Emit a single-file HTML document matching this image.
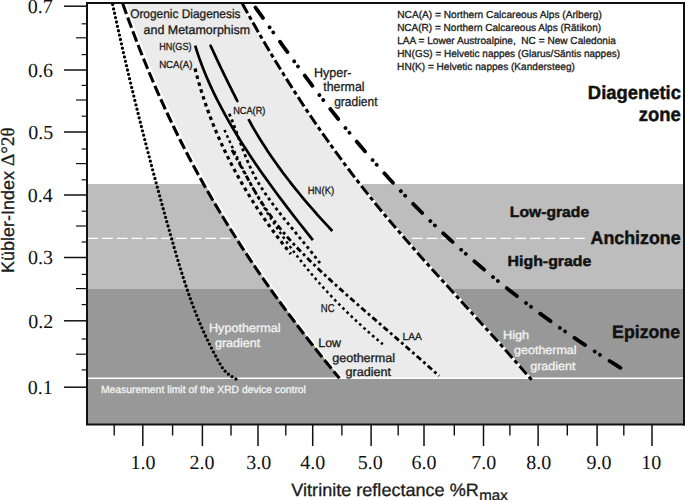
<!DOCTYPE html>
<html><head><meta charset="utf-8"><style>
html,body{margin:0;padding:0;background:#fff;width:685px;height:500px;overflow:hidden;}
svg{display:block;}
</style></head><body>
<svg width="685" height="500" viewBox="0 0 685 500">
<rect width="685" height="500" fill="#fff"/>
<rect x="87" y="184" width="597" height="105" fill="#bdbdbd"/>
<rect x="87" y="289" width="597" height="135.5" fill="#989898"/>
<line x1="87.3" y1="238.4" x2="587" y2="238.4" stroke="#fff" stroke-width="1.3" stroke-dasharray="10.8 3.95"/>
<path d="M124.12,3.00 L125.80,7.75 L127.50,12.50 L129.22,17.25 L130.96,22.00 L132.72,26.75 L134.50,31.50 L136.31,36.25 L138.13,41.01 L139.98,45.76 L141.85,50.51 L143.74,55.26 L145.65,60.01 L147.59,64.76 L149.55,69.51 L151.54,74.26 L153.55,79.01 L155.58,83.76 L157.64,88.51 L159.73,93.26 L161.84,98.01 L163.98,102.76 L166.15,107.51 L168.34,112.26 L170.57,117.02 L172.82,121.77 L175.10,126.52 L177.40,131.27 L179.74,136.02 L182.11,140.77 L184.51,145.52 L186.94,150.27 L189.40,155.02 L191.89,159.77 L194.41,164.52 L196.97,169.27 L199.56,174.02 L202.18,178.77 L204.83,183.52 L207.52,188.27 L210.24,193.03 L212.99,197.78 L215.77,202.53 L218.59,207.28 L221.43,212.03 L224.32,216.78 L227.23,221.53 L230.17,226.28 L233.15,231.03 L236.16,235.78 L239.20,240.53 L242.27,245.28 L245.38,250.03 L248.52,254.78 L251.68,259.53 L254.88,264.28 L258.12,269.04 L261.38,273.79 L264.67,278.54 L268.00,283.29 L271.36,288.04 L274.75,292.79 L278.17,297.54 L281.62,302.29 L285.10,307.04 L288.62,311.79 L292.16,316.54 L295.74,321.29 L299.34,326.04 L302.98,330.79 L306.65,335.54 L310.35,340.29 L314.08,345.05 L317.84,349.80 L321.63,354.55 L325.46,359.30 L329.31,364.05 L333.19,368.80 L337.11,373.55 L341.05,378.30 L530.18,378.30 L526.09,373.55 L521.98,368.80 L517.83,364.05 L513.66,359.30 L509.46,354.55 L505.23,349.80 L500.98,345.05 L496.72,340.29 L492.44,335.54 L488.14,330.79 L483.83,326.04 L479.51,321.29 L475.18,316.54 L470.84,311.79 L466.50,307.04 L462.16,302.29 L457.82,297.54 L453.48,292.79 L449.15,288.04 L444.83,283.29 L440.51,278.54 L436.21,273.79 L431.92,269.04 L427.64,264.28 L423.39,259.53 L419.15,254.78 L414.94,250.03 L410.75,245.28 L406.60,240.53 L402.47,235.78 L398.37,231.03 L394.30,226.28 L390.28,221.53 L386.29,216.78 L382.34,212.03 L378.43,207.28 L374.56,202.53 L370.73,197.78 L366.94,193.03 L363.19,188.27 L359.48,183.52 L355.81,178.77 L352.17,174.02 L348.57,169.27 L345.01,164.52 L341.48,159.77 L337.99,155.02 L334.53,150.27 L331.11,145.52 L327.72,140.77 L324.36,136.02 L321.04,131.27 L317.75,126.52 L314.49,121.77 L311.27,117.02 L308.07,112.26 L304.90,107.51 L301.77,102.76 L298.66,98.01 L295.58,93.26 L292.54,88.51 L289.51,83.76 L286.52,79.01 L283.55,74.26 L280.61,69.51 L277.70,64.76 L274.81,60.01 L271.95,55.26 L269.11,50.51 L266.29,45.76 L263.50,41.01 L260.73,36.25 L257.99,31.50 L255.26,26.75 L252.56,22.00 L249.88,17.25 L247.22,12.50 L244.58,7.75 L241.96,3.00 Z" fill="#ebebeb"/>
<path d="M125.12,3.00 L126.80,7.75 L128.50,12.50 L130.22,17.25 L131.96,22.00 L133.72,26.75 L135.50,31.50 L137.31,36.25 L139.13,41.01 L140.98,45.76 L142.85,50.51 L144.74,55.26 L146.65,60.01 L148.59,64.76 L150.55,69.51 L152.54,74.26 L154.55,79.01 L156.58,83.76 L158.64,88.51 L160.73,93.26 L162.84,98.01 L164.98,102.76 L167.15,107.51 L169.34,112.26 L171.57,117.02 L173.82,121.77 L176.10,126.52 L178.40,131.27 L180.74,136.02 L183.11,140.77 L185.51,145.52 L187.94,150.27 L190.40,155.02 L192.89,159.77 L195.41,164.52 L197.97,169.27 L200.56,174.02 L203.18,178.77 L205.83,183.52 L208.52,188.27 L211.24,193.03 L213.99,197.78 L216.77,202.53 L219.59,207.28 L222.43,212.03 L225.32,216.78 L228.23,221.53 L231.17,226.28 L234.15,231.03 L237.16,235.78 L240.20,240.53 L243.27,245.28 L246.38,250.03 L249.52,254.78 L252.68,259.53 L255.88,264.28 L259.12,269.04 L262.38,273.79 L265.67,278.54 L269.00,283.29 L272.36,288.04 L275.75,292.79 L279.17,297.54 L282.62,302.29 L286.10,307.04 L289.62,311.79 L293.16,316.54 L296.74,321.29 L300.34,326.04 L303.98,330.79 L307.65,335.54 L311.35,340.29 L315.08,345.05 L318.84,349.80 L322.63,354.55 L326.46,359.30 L330.31,364.05 L334.19,368.80 L338.11,373.55 L342.05,378.30" fill="none" stroke="#fff" stroke-width="2.0"/>
<path d="M241.96,3.00 L244.59,7.77 L247.24,12.54 L249.92,17.32 L252.61,22.09 L255.33,26.86 L258.06,31.63 L260.82,36.41 L263.60,41.18 L266.41,45.95 L269.24,50.72 L272.09,55.49 L274.97,60.27 L277.87,65.04 L280.80,69.81 L283.76,74.58 L286.74,79.35 L289.75,84.13 L292.78,88.90 L295.85,93.67 L298.94,98.44 L302.07,103.22 L305.22,107.99 L308.40,112.76 L311.61,117.53 L314.86,122.30 L318.14,127.08 L321.45,131.85 L324.79,136.62 L328.16,141.39 L331.57,146.16 L335.02,150.94 L338.49,155.71 L342.01,160.48 L345.56,165.25 L349.14,170.03 L352.76,174.80 L356.42,179.57 L360.12,184.34 L363.85,189.11 L367.63,193.89 L371.44,198.66 L375.29,203.43 L379.19,208.20 L383.12,212.97 L387.10,217.75 L391.11,222.52 L395.17,227.29 L399.26,232.06 L403.38,236.84 L407.54,241.61 L411.72,246.38 L415.93,251.15 L420.17,255.92 L424.43,260.70 L428.71,265.47 L433.00,270.24 L437.32,275.01 L441.64,279.78 L445.98,284.56 L450.33,289.33 L454.68,294.10 L459.04,298.87 L463.40,303.65 L467.76,308.42 L472.12,313.19 L476.47,317.96 L480.82,322.73 L485.16,327.51 L489.48,332.28 L493.80,337.05 L498.09,341.82 L502.37,346.59 L506.63,351.37 L510.87,356.14 L515.08,360.91 L519.26,365.68 L523.42,370.46 L527.54,375.23 L531.63,380.00" fill="none" stroke="#fff" stroke-width="3"/>
<line x1="87" y1="378.3" x2="684" y2="378.3" stroke="#fff" stroke-width="1.4"/>
<path d="M235.91,379.00 L232.55,377.12 L229.73,375.24 L227.37,373.35 L225.39,371.47 L223.74,369.59 L222.34,367.71 L221.12,365.83 L220.01,363.94 L218.94,362.06 L217.88,360.18 L216.84,358.30 L215.82,356.42 L214.81,354.54 L213.81,352.65 L212.83,350.77 L211.86,348.89 L210.91,347.01 L209.97,345.13 L209.04,343.24 L208.12,341.36 L207.22,339.48 L206.33,337.60 L205.45,335.72 L204.59,333.83 L203.73,331.95 L202.89,330.07 L202.06,328.19 L201.24,326.31 L200.43,324.42 L199.63,322.54 L198.85,320.66 L198.07,318.78 L197.30,316.90 L196.55,315.02 L195.80,313.13 L195.06,311.25 L194.33,309.37 L193.61,307.49 L192.90,305.61 L192.20,303.72 L191.50,301.84 L190.82,299.96 L190.14,298.08 L189.47,296.20 L188.81,294.31 L188.15,292.43 L187.51,290.55 L186.87,288.67 L186.23,286.79 L185.60,284.90 L184.98,283.02 L184.37,281.14 L183.76,279.26 L183.15,277.38 L182.55,275.49 L181.96,273.61 L181.37,271.73 L180.79,269.85 L180.21,267.97 L179.63,266.09 L179.06,264.20 L178.49,262.32 L177.93,260.44 L177.37,258.56 L176.81,256.68 L176.26,254.79 L175.71,252.91 L175.16,251.03 L174.62,249.15 L174.07,247.27 L173.53,245.38 L172.99,243.50 L172.45,241.62 L171.91,239.74 L171.38,237.86 L170.84,235.97 L170.31,234.09 L169.77,232.21 L169.24,230.33 L168.71,228.45 L168.18,226.57 L167.65,224.68 L167.12,222.80 L166.59,220.92 L166.07,219.04 L165.54,217.16 L165.02,215.27 L164.49,213.39 L163.97,211.51 L163.45,209.63 L162.93,207.75 L162.41,205.86 L161.89,203.98 L161.37,202.10 L160.85,200.22 L160.34,198.34 L159.82,196.45 L159.31,194.57 L158.79,192.69 L158.28,190.81 L157.77,188.93 L157.26,187.05 L156.75,185.16 L156.24,183.28 L155.74,181.40 L155.23,179.52 L154.72,177.64 L154.22,175.75 L153.72,173.87 L153.21,171.99 L152.71,170.11 L152.21,168.23 L151.71,166.34 L151.21,164.46 L150.72,162.58 L150.22,160.70 L149.72,158.82 L149.23,156.93 L148.74,155.05 L148.24,153.17 L147.75,151.29 L147.26,149.41 L146.77,147.53 L146.28,145.64 L145.80,143.76 L145.31,141.88 L144.83,140.00 L144.34,138.12 L143.86,136.23 L143.38,134.35 L142.89,132.47 L142.41,130.59 L141.93,128.71 L141.46,126.82 L140.98,124.94 L140.50,123.06 L140.03,121.18 L139.55,119.30 L139.08,117.41 L138.61,115.53 L138.14,113.65 L137.67,111.77 L137.20,109.89 L136.73,108.01 L136.27,106.12 L135.80,104.24 L135.34,102.36 L134.87,100.48 L134.41,98.60 L133.95,96.71 L133.49,94.83 L133.03,92.95 L132.57,91.07 L132.11,89.19 L131.66,87.30 L131.20,85.42 L130.75,83.54 L130.29,81.66 L129.84,79.78 L129.39,77.89 L128.94,76.01 L128.49,74.13 L128.05,72.25 L127.60,70.37 L127.15,68.48 L126.71,66.60 L126.27,64.72 L125.82,62.84 L125.38,60.96 L124.94,59.08 L124.50,57.19 L124.07,55.31 L123.63,53.43 L123.19,51.55 L122.76,49.67 L122.33,47.78 L121.89,45.90 L121.46,44.02 L121.03,42.14 L120.60,40.26 L120.18,38.37 L119.75,36.49 L119.32,34.61 L118.90,32.73 L118.48,30.85 L118.05,28.96 L117.63,27.08 L117.21,25.20 L116.79,23.32 L116.38,21.44 L115.96,19.56 L115.54,17.67 L115.13,15.79 L114.72,13.91 L114.30,12.03 L113.89,10.15 L113.48,8.26 L113.07,6.38 L112.67,4.50" fill="none" stroke="#000" stroke-width="3.3" stroke-linecap="round" stroke-dasharray="0 4.4769"/>
<path d="M339.45,378.30 L335.51,373.55 L331.59,368.80 L327.71,364.05 L323.86,359.30 L320.03,354.55 L316.24,349.80 L312.48,345.05 L308.75,340.29 L305.05,335.54 L301.38,330.79 L297.74,326.04 L294.14,321.29 L290.56,316.54 L287.02,311.79 L283.50,307.04 L280.02,302.29 L276.57,297.54 L273.15,292.79 L269.76,288.04 L266.40,283.29 L263.07,278.54 L259.78,273.79 L256.52,269.04 L253.28,264.28 L250.08,259.53 L246.92,254.78 L243.78,250.03 L240.67,245.28 L237.60,240.53 L234.56,235.78 L231.55,231.03 L228.57,226.28 L225.63,221.53 L222.72,216.78 L219.83,212.03 L216.99,207.28 L214.17,202.53 L211.39,197.78 L208.64,193.03 L205.92,188.27 L203.23,183.52 L200.58,178.77 L197.96,174.02 L195.37,169.27 L192.81,164.52 L190.29,159.77 L187.80,155.02 L185.34,150.27 L182.91,145.52 L180.51,140.77 L178.14,136.02 L175.80,131.27 L173.50,126.52 L171.22,121.77 L168.97,117.02 L166.74,112.26 L164.55,107.51 L162.38,102.76 L160.24,98.01 L158.13,93.26 L156.04,88.51 L153.98,83.76 L151.95,79.01 L149.94,74.26 L147.95,69.51 L145.99,64.76 L144.05,60.01 L142.14,55.26 L140.25,50.51 L138.38,45.76 L136.53,41.01 L134.71,36.25 L132.90,31.50 L131.12,26.75 L129.36,22.00 L127.62,17.25 L125.90,12.50 L124.20,7.75 L122.52,3.00" fill="none" stroke="#000" stroke-width="3.1" stroke-dasharray="11 3.7" stroke-dashoffset="2"/>
<path d="M531.63,380.00 L527.54,375.23 L523.42,370.46 L519.26,365.68 L515.08,360.91 L510.87,356.14 L506.63,351.37 L502.37,346.59 L498.09,341.82 L493.80,337.05 L489.48,332.28 L485.16,327.51 L480.82,322.73 L476.47,317.96 L472.12,313.19 L467.76,308.42 L463.40,303.65 L459.04,298.87 L454.68,294.10 L450.33,289.33 L445.98,284.56 L441.64,279.78 L437.32,275.01 L433.00,270.24 L428.71,265.47 L424.43,260.70 L420.17,255.92 L415.93,251.15 L411.72,246.38 L407.54,241.61 L403.38,236.84 L399.26,232.06 L395.17,227.29 L391.11,222.52 L387.10,217.75 L383.12,212.97 L379.19,208.20 L375.29,203.43 L371.44,198.66 L367.63,193.89 L363.85,189.11 L360.12,184.34 L356.42,179.57 L352.76,174.80 L349.14,170.03 L345.56,165.25 L342.01,160.48 L338.49,155.71 L335.02,150.94 L331.57,146.16 L328.16,141.39 L324.79,136.62 L321.45,131.85 L318.14,127.08 L314.86,122.30 L311.61,117.53 L308.40,112.76 L305.22,107.99 L302.07,103.22 L298.94,98.44 L295.85,93.67 L292.78,88.90 L289.75,84.13 L286.74,79.35 L283.76,74.58 L280.80,69.81 L277.87,65.04 L274.97,60.27 L272.09,55.49 L269.24,50.72 L266.41,45.95 L263.60,41.18 L260.82,36.41 L258.06,31.63 L255.33,26.86 L252.61,22.09 L249.92,17.32 L247.24,12.54 L244.59,7.77 L241.96,3.00" fill="none" stroke="#000" stroke-width="3" stroke-dasharray="4.2 3.3 11 3.3"/>
<path d="M620.43,367.80 L613.10,363.22 L605.88,358.64 L598.77,354.05 L591.75,349.47 L584.83,344.89 L578.01,340.31 L571.28,335.72 L564.65,331.14 L558.11,326.56 L551.67,321.98 L545.31,317.39 L539.05,312.81 L532.87,308.23 L526.78,303.65 L520.78,299.07 L514.86,294.48 L509.02,289.90 L503.26,285.32 L497.59,280.74 L491.99,276.15 L486.47,271.57 L481.03,266.99 L475.66,262.41 L470.36,257.83 L465.14,253.24 L459.99,248.66 L454.91,244.08 L449.90,239.50 L444.95,234.91 L440.07,230.33 L435.26,225.75 L430.51,221.17 L425.82,216.58 L421.19,212.00 L416.62,207.42 L412.10,202.84 L407.65,198.26 L403.25,193.67 L398.90,189.09 L394.61,184.51 L390.37,179.93 L386.17,175.34 L382.03,170.76 L377.94,166.18 L373.89,161.60 L369.88,157.02 L365.92,152.43 L362.00,147.85 L358.12,143.27 L354.28,138.69 L350.48,134.10 L346.72,129.52 L342.99,124.94 L339.30,120.36 L335.64,115.77 L332.01,111.19 L328.41,106.61 L324.84,102.03 L321.30,97.45 L317.78,92.86 L314.29,88.28 L310.83,83.70 L307.38,79.12 L303.96,74.53 L300.56,69.95 L297.17,65.37 L293.81,60.79 L290.45,56.21 L287.12,51.62 L283.80,47.04 L280.48,42.46 L277.18,37.88 L273.89,33.29 L270.61,28.71 L267.33,24.13 L264.06,19.55 L260.80,14.96 L257.53,10.38 L254.27,5.80" fill="none" stroke="#000" stroke-width="3.8" stroke-linecap="round" stroke-dasharray="12.8 11.4 0.01 6.3 0.01 11.5"/>
<path d="M195.19,45.70 L196.42,49.67 L197.71,53.63 L199.07,57.60 L200.49,61.57 L201.97,65.54 L203.51,69.50 L205.12,73.47 L206.78,77.44 L208.50,81.41 L210.28,85.37 L212.11,89.34 L214.00,93.31 L215.95,97.28 L217.94,101.24 L219.99,105.21 L222.09,109.18 L224.24,113.14 L226.44,117.11 L228.68,121.08 L230.97,125.05 L233.31,129.01 L235.69,132.98 L238.12,136.95 L240.58,140.92 L243.09,144.88 L245.64,148.85 L248.23,152.82 L250.85,156.79 L253.51,160.75 L256.21,164.72 L258.95,168.69 L261.71,172.66 L264.51,176.62 L267.34,180.59 L270.21,184.56 L273.10,188.52 L276.02,192.49 L278.96,196.46 L281.94,200.43 L284.94,204.39 L287.96,208.36 L291.01,212.33 L294.08,216.30 L297.16,220.26 L300.27,224.23 L303.40,228.20 L306.55,232.17 L309.71,236.13 L312.89,240.10" fill="none" stroke="#000" stroke-width="2.7"/>
<path d="M210.61,45.70 L211.93,48.61 L213.27,51.52 L214.62,54.43 L215.97,57.34 L217.34,60.25 L218.71,63.16 L220.09,66.07 L221.48,68.98 L222.88,71.89 L224.29,74.81 L225.70,77.72 L227.13,80.63 L228.56,83.54 L230.01,86.45 L231.46,89.36 L232.92,92.27 L234.39,95.18 L235.87,98.09 L237.35,101.00" fill="none" stroke="#000" stroke-width="2.7" stroke-linecap="round"/>
<path d="M248.44,119.20 L249.68,121.48 L250.95,123.76 L252.23,126.04 L253.54,128.33 L254.87,130.61 L256.22,132.89 L257.58,135.17 L258.97,137.45 L260.38,139.73 L261.81,142.02 L263.26,144.30 L264.73,146.58 L266.22,148.86 L267.73,151.14 L269.25,153.42 L270.80,155.71 L272.37,157.99 L273.96,160.27 L275.56,162.55 L277.19,164.83 L278.83,167.11 L280.50,169.40 L282.18,171.68 L283.88,173.96 L285.60,176.24 L287.34,178.52 L289.10,180.80 L290.88,183.09 L292.68,185.37 L294.49,187.65 L296.32,189.93 L298.17,192.21 L300.04,194.49 L301.93,196.78 L303.84,199.06 L305.76,201.34 L307.70,203.62 L309.66,205.90 L311.64,208.18 L313.63,210.47 L315.64,212.75 L317.67,215.03 L319.72,217.31 L321.78,219.59 L323.87,221.87 L325.96,224.16 L328.08,226.44 L330.21,228.72 L332.36,231.00" fill="none" stroke="#000" stroke-width="2.7"/>
<path d="M195.01,68.50 L195.98,72.29 L196.99,76.07 L198.03,79.86 L199.11,83.64 L200.23,87.43 L201.38,91.21 L202.58,95.00 L203.81,98.79 L205.07,102.57 L206.38,106.36 L207.73,110.14 L209.12,113.93 L210.54,117.71 L212.01,121.50 L213.51,125.29 L215.06,129.07 L216.65,132.86 L218.28,136.64 L219.95,140.43 L221.66,144.21 L223.41,148.00 L225.21,151.79 L227.05,155.57 L228.93,159.36 L230.86,163.14 L232.83,166.93 L234.85,170.71 L236.90,174.50 L239.01,178.29 L241.16,182.07 L243.35,185.86 L245.59,189.64 L247.87,193.43 L250.20,197.21 L252.58,201.00 L255.00,204.79 L257.48,208.57 L259.99,212.36 L262.56,216.14 L265.17,219.93 L267.84,223.71 L270.55,227.50 L273.31,231.29 L276.12,235.07 L278.98,238.86 L281.89,242.64 L284.84,246.43 L287.85,250.21 L290.91,254.00" fill="none" stroke="#000" stroke-width="3.2" stroke-dasharray="3.6 3.6"/>
<path d="M229.24,113.80 L230.54,116.85 L231.79,119.90 L233.00,122.95 L234.17,126.00 L235.33,129.04 L236.46,132.09 L237.58,135.14 L238.69,138.19 L239.80,141.24 L240.92,144.29 L242.05,147.34 L243.21,150.39 L244.39,153.44 L245.60,156.49 L246.85,159.53 L248.14,162.58 L249.49,165.63 L250.90,168.68 L252.38,171.73 L253.92,174.78 L255.55,177.83 L257.26,180.88 L259.05,183.93 L260.93,186.98 L262.89,190.02 L264.92,193.07 L267.02,196.12 L269.19,199.17 L271.40,202.22 L273.68,205.27 L276.00,208.32 L278.36,211.37 L280.75,214.42 L283.18,217.47 L285.64,220.51 L288.12,223.56 L290.61,226.61 L293.12,229.66 L295.63,232.71 L298.14,235.76 L300.65,238.81 L303.15,241.86 L305.64,244.91 L308.10,247.96 L310.54,251.00 L312.96,254.05 L315.33,257.10 L317.67,260.15 L319.96,263.20" fill="none" stroke="#000" stroke-width="2.8" stroke-dasharray="3 3.2"/>
<path d="M231.94,150.00 L234.50,154.61 L237.03,159.22 L239.54,163.84 L242.05,168.45 L244.57,173.06 L247.11,177.67 L249.69,182.29 L252.31,186.90 L254.99,191.51 L257.75,196.12 L260.59,200.73 L263.52,205.35 L266.57,209.96 L269.74,214.57 L273.05,219.18 L276.51,223.80 L280.12,228.41 L283.91,233.02 L287.88,237.63 L292.02,242.24 L296.31,246.86 L300.73,251.47 L305.28,256.08 L309.94,260.69 L314.68,265.31 L319.50,269.92 L324.40,274.53 L329.37,279.14 L334.39,283.76 L339.47,288.37 L344.61,292.98 L349.78,297.59 L355.00,302.20 L360.25,306.82 L365.52,311.43 L370.82,316.04 L376.13,320.65 L381.45,325.27 L386.78,329.88 L392.10,334.49 L397.42,339.10 L402.73,343.71 L408.02,348.33 L413.28,352.94 L418.51,357.55 L423.71,362.16 L428.86,366.78 L433.97,371.39 L439.03,376.00" fill="none" stroke="#000" stroke-width="2.8" stroke-dasharray="5.7 3.1 2.8 3.1"/>
<path d="M224.50,130.00 L226.46,134.37 L228.45,138.74 L230.46,143.11 L232.49,147.49 L234.55,151.86 L236.65,156.23 L238.77,160.60 L240.93,164.97 L243.13,169.34 L245.36,173.71 L247.64,178.09 L249.95,182.46 L252.31,186.83 L254.72,191.20 L257.17,195.57 L259.68,199.94 L262.23,204.31 L264.84,208.69 L267.51,213.06 L270.23,217.43 L273.01,221.80 L275.85,226.17 L278.76,230.54 L281.73,234.91 L284.77,239.29 L287.87,243.66 L291.05,248.03 L294.30,252.40 L297.63,256.77 L301.03,261.14 L304.51,265.51 L308.07,269.89 L311.71,274.26 L315.44,278.63 L319.25,283.00 L323.16,287.37 L327.15,291.74 L331.23,296.11 L335.41,300.49 L339.69,304.86 L344.06,309.23 L348.53,313.60 L353.10,317.97 L357.78,322.34 L362.56,326.71 L367.45,331.09 L372.45,335.46 L377.56,339.83 L382.79,344.20" fill="none" stroke="#000" stroke-width="2.5" stroke-dasharray="2.6 3.2"/>
<path d="M87,424.5 L87,3 L685,3 M86,424.5 L685,424.5" fill="none" stroke="#111" stroke-width="2"/>
<line x1="684" y1="3" x2="684" y2="425.5" stroke="#111" stroke-width="2"/>
<line x1="64" y1="6.2" x2="87" y2="6.2" stroke="#111" stroke-width="1.5"/>
<line x1="64" y1="70" x2="87" y2="70" stroke="#111" stroke-width="1.5"/>
<line x1="64" y1="132" x2="87" y2="132" stroke="#111" stroke-width="1.5"/>
<line x1="64" y1="195" x2="87" y2="195" stroke="#111" stroke-width="1.5"/>
<line x1="64" y1="257.5" x2="87" y2="257.5" stroke="#111" stroke-width="1.5"/>
<line x1="64" y1="320.8" x2="87" y2="320.8" stroke="#111" stroke-width="1.5"/>
<line x1="64" y1="387.2" x2="87" y2="387.2" stroke="#111" stroke-width="1.5"/>
<line x1="81.6" y1="23.8" x2="87" y2="23.8" stroke="#111" stroke-width="1.2"/>
<line x1="76" y1="37.8" x2="87" y2="37.8" stroke="#111" stroke-width="1.2"/>
<line x1="81.6" y1="54.6" x2="87" y2="54.6" stroke="#111" stroke-width="1.2"/>
<line x1="81.6" y1="85.4" x2="87" y2="85.4" stroke="#111" stroke-width="1.2"/>
<line x1="76" y1="100" x2="87" y2="100" stroke="#111" stroke-width="1.2"/>
<line x1="81.6" y1="116.2" x2="87" y2="116.2" stroke="#111" stroke-width="1.2"/>
<line x1="81.6" y1="149" x2="87" y2="149" stroke="#111" stroke-width="1.2"/>
<line x1="76" y1="163.6" x2="87" y2="163.6" stroke="#111" stroke-width="1.2"/>
<line x1="81.6" y1="179.8" x2="87" y2="179.8" stroke="#111" stroke-width="1.2"/>
<line x1="81.6" y1="211.2" x2="87" y2="211.2" stroke="#111" stroke-width="1.2"/>
<line x1="76" y1="226" x2="87" y2="226" stroke="#111" stroke-width="1.2"/>
<line x1="81.6" y1="242" x2="87" y2="242" stroke="#111" stroke-width="1.2"/>
<line x1="81.6" y1="274.4" x2="87" y2="274.4" stroke="#111" stroke-width="1.2"/>
<line x1="76" y1="288.6" x2="87" y2="288.6" stroke="#111" stroke-width="1.2"/>
<line x1="81.6" y1="304.6" x2="87" y2="304.6" stroke="#111" stroke-width="1.2"/>
<line x1="81.6" y1="339" x2="87" y2="339" stroke="#111" stroke-width="1.2"/>
<line x1="76" y1="354.2" x2="87" y2="354.2" stroke="#111" stroke-width="1.2"/>
<line x1="81.6" y1="369.9" x2="87" y2="369.9" stroke="#111" stroke-width="1.2"/>
<line x1="142.8" y1="424.5" x2="142.8" y2="446" stroke="#111" stroke-width="1.5"/>
<line x1="202.4" y1="424.5" x2="202.4" y2="446" stroke="#111" stroke-width="1.5"/>
<line x1="258" y1="424.5" x2="258" y2="446" stroke="#111" stroke-width="1.5"/>
<line x1="312.7" y1="424.5" x2="312.7" y2="446" stroke="#111" stroke-width="1.5"/>
<line x1="371.1" y1="424.5" x2="371.1" y2="446" stroke="#111" stroke-width="1.5"/>
<line x1="424" y1="424.5" x2="424" y2="446" stroke="#111" stroke-width="1.5"/>
<line x1="483.5" y1="424.5" x2="483.5" y2="446" stroke="#111" stroke-width="1.5"/>
<line x1="538.1" y1="424.5" x2="538.1" y2="446" stroke="#111" stroke-width="1.5"/>
<line x1="597.1" y1="424.5" x2="597.1" y2="446" stroke="#111" stroke-width="1.5"/>
<line x1="652" y1="424.5" x2="652" y2="446" stroke="#111" stroke-width="1.5"/>
<line x1="114.2" y1="424.5" x2="114.2" y2="435.5" stroke="#111" stroke-width="1.4"/>
<line x1="172.6" y1="424.5" x2="172.6" y2="435.5" stroke="#111" stroke-width="1.4"/>
<line x1="231" y1="424.5" x2="231" y2="435.5" stroke="#111" stroke-width="1.4"/>
<line x1="285.8" y1="424.5" x2="285.8" y2="435.5" stroke="#111" stroke-width="1.4"/>
<line x1="341.9" y1="424.5" x2="341.9" y2="435.5" stroke="#111" stroke-width="1.4"/>
<line x1="398.2" y1="424.5" x2="398.2" y2="435.5" stroke="#111" stroke-width="1.4"/>
<line x1="454.3" y1="424.5" x2="454.3" y2="435.5" stroke="#111" stroke-width="1.4"/>
<line x1="509.9" y1="424.5" x2="509.9" y2="435.5" stroke="#111" stroke-width="1.4"/>
<line x1="567.3" y1="424.5" x2="567.3" y2="435.5" stroke="#111" stroke-width="1.4"/>
<line x1="623.8" y1="424.5" x2="623.8" y2="435.5" stroke="#111" stroke-width="1.4"/>
<text x="27.86" y="13.40" style="font-family:'Liberation Serif',serif;font-size:20px;font-weight:normal;white-space:pre" text-rendering="geometricPrecision" fill="#111">0.7</text>
<text x="27.88" y="77.00" style="font-family:'Liberation Serif',serif;font-size:20px;font-weight:normal;white-space:pre" text-rendering="geometricPrecision" fill="#111">0.6</text>
<text x="28.31" y="139.00" style="font-family:'Liberation Serif',serif;font-size:20px;font-weight:normal;white-space:pre" text-rendering="geometricPrecision" fill="#111">0.5</text>
<text x="27.75" y="202.00" style="font-family:'Liberation Serif',serif;font-size:20px;font-weight:normal;white-space:pre" text-rendering="geometricPrecision" fill="#111">0.4</text>
<text x="28.09" y="264.30" style="font-family:'Liberation Serif',serif;font-size:20px;font-weight:normal;white-space:pre" text-rendering="geometricPrecision" fill="#111">0.3</text>
<text x="28.23" y="327.60" style="font-family:'Liberation Serif',serif;font-size:20px;font-weight:normal;white-space:pre" text-rendering="geometricPrecision" fill="#111">0.2</text>
<text x="27.77" y="393.60" style="font-family:'Liberation Serif',serif;font-size:20px;font-weight:normal;white-space:pre" text-rendering="geometricPrecision" fill="#111">0.1</text>
<text x="130.43" y="469.00" style="font-family:'Liberation Serif',serif;font-size:20px;font-weight:normal;white-space:pre" text-rendering="geometricPrecision" fill="#111">1.0</text>
<text x="189.62" y="469.00" style="font-family:'Liberation Serif',serif;font-size:20px;font-weight:normal;white-space:pre" text-rendering="geometricPrecision" fill="#111">2.0</text>
<text x="246.13" y="469.00" style="font-family:'Liberation Serif',serif;font-size:20px;font-weight:normal;white-space:pre" text-rendering="geometricPrecision" fill="#111">3.0</text>
<text x="300.17" y="469.00" style="font-family:'Liberation Serif',serif;font-size:20px;font-weight:normal;white-space:pre" text-rendering="geometricPrecision" fill="#111">4.0</text>
<text x="357.79" y="469.00" style="font-family:'Liberation Serif',serif;font-size:20px;font-weight:normal;white-space:pre" text-rendering="geometricPrecision" fill="#111">5.0</text>
<text x="411.57" y="469.00" style="font-family:'Liberation Serif',serif;font-size:20px;font-weight:normal;white-space:pre" text-rendering="geometricPrecision" fill="#111">6.0</text>
<text x="471.24" y="469.00" style="font-family:'Liberation Serif',serif;font-size:20px;font-weight:normal;white-space:pre" text-rendering="geometricPrecision" fill="#111">7.0</text>
<text x="526.21" y="469.00" style="font-family:'Liberation Serif',serif;font-size:20px;font-weight:normal;white-space:pre" text-rendering="geometricPrecision" fill="#111">8.0</text>
<text x="586.40" y="469.00" style="font-family:'Liberation Serif',serif;font-size:20px;font-weight:normal;white-space:pre" text-rendering="geometricPrecision" fill="#111">9.0</text>
<text x="641.29" y="469.00" style="font-family:'Liberation Serif',serif;font-size:20px;font-weight:normal;white-space:pre" text-rendering="geometricPrecision" fill="#111">10</text>
<text x="291.37" y="496.30" style="font-family:'Liberation Sans',sans-serif;font-size:17.9px;font-weight:normal;white-space:pre" text-rendering="geometricPrecision" fill="#1a1a1a" stroke="#1a1a1a" stroke-width="0.3" textLength="187.42" lengthAdjust="spacingAndGlyphs">Vitrinite reflectance %R</text>
<text x="479.31" y="499.60" style="font-family:'Liberation Sans',sans-serif;font-size:14.4px;font-weight:normal;white-space:pre" text-rendering="geometricPrecision" fill="#1a1a1a" stroke="#1a1a1a" stroke-width="0.3" textLength="28.45" lengthAdjust="spacingAndGlyphs">max</text>
<text x="397.22" y="18.10" style="font-family:'Liberation Sans',sans-serif;font-size:10.2px;font-weight:normal;white-space:pre" text-rendering="geometricPrecision" fill="#1a1a1a" stroke="#1a1a1a" stroke-width="0.3" textLength="204.56" lengthAdjust="spacingAndGlyphs">NCA(A) = Northern Calcareous Alps (Arlberg)</text>
<text x="397.13" y="31.30" style="font-family:'Liberation Sans',sans-serif;font-size:10.2px;font-weight:normal;white-space:pre" text-rendering="geometricPrecision" fill="#1a1a1a" stroke="#1a1a1a" stroke-width="0.3" textLength="203.96" lengthAdjust="spacingAndGlyphs">NCA(R) = Northern Calcareous Alps (Rätikon)</text>
<text x="397.22" y="43.90" style="font-family:'Liberation Sans',sans-serif;font-size:10.2px;font-weight:normal;white-space:pre" text-rendering="geometricPrecision" fill="#1a1a1a" stroke="#1a1a1a" stroke-width="0.3" textLength="218.54" lengthAdjust="spacingAndGlyphs">LAA = Lower Austroalpine,  NC = New Caledonia</text>
<text x="397.14" y="57.20" style="font-family:'Liberation Sans',sans-serif;font-size:10.2px;font-weight:normal;white-space:pre" text-rendering="geometricPrecision" fill="#1a1a1a" stroke="#1a1a1a" stroke-width="0.3" textLength="222.91" lengthAdjust="spacingAndGlyphs">HN(GS) = Helvetic nappes (Glarus/Säntis nappes)</text>
<text x="397.12" y="70.20" style="font-family:'Liberation Sans',sans-serif;font-size:10.2px;font-weight:normal;white-space:pre" text-rendering="geometricPrecision" fill="#1a1a1a" stroke="#1a1a1a" stroke-width="0.3" textLength="177.73" lengthAdjust="spacingAndGlyphs">HN(K) = Helvetic nappes (Kandersteeg)</text>
<text x="587.86" y="99.10" style="font-family:'Liberation Sans',sans-serif;font-size:19.0px;font-weight:bold;white-space:pre" text-rendering="geometricPrecision" fill="#111" stroke="#111" stroke-width="0.45" textLength="93.10" lengthAdjust="spacingAndGlyphs">Diagenetic</text>
<text x="638.76" y="121.30" style="font-family:'Liberation Sans',sans-serif;font-size:19.5px;font-weight:bold;white-space:pre" text-rendering="geometricPrecision" fill="#111" stroke="#111" stroke-width="0.45" textLength="42.14" lengthAdjust="spacingAndGlyphs">zone</text>
<text x="509.88" y="216.60" style="font-family:'Liberation Sans',sans-serif;font-size:15.0px;font-weight:bold;white-space:pre" text-rendering="geometricPrecision" fill="#111" stroke="#111" stroke-width="0.45" textLength="79.23" lengthAdjust="spacingAndGlyphs">Low-grade</text>
<text x="590.60" y="244.10" style="font-family:'Liberation Sans',sans-serif;font-size:18.3px;font-weight:bold;white-space:pre" text-rendering="geometricPrecision" fill="#111" stroke="#111" stroke-width="0.45" textLength="89.99" lengthAdjust="spacingAndGlyphs">Anchizone</text>
<text x="507.62" y="265.80" style="font-family:'Liberation Sans',sans-serif;font-size:14.5px;font-weight:bold;white-space:pre" text-rendering="geometricPrecision" fill="#111" stroke="#111" stroke-width="0.45" textLength="83.78" lengthAdjust="spacingAndGlyphs">High-grade</text>
<text x="612.12" y="337.50" style="font-family:'Liberation Sans',sans-serif;font-size:18.0px;font-weight:bold;white-space:pre" text-rendering="geometricPrecision" fill="#111" stroke="#111" stroke-width="0.45" textLength="67.94" lengthAdjust="spacingAndGlyphs">Epizone</text>
<text x="130.18" y="18.30" style="font-family:'Liberation Sans',sans-serif;font-size:12.5px;font-weight:normal;white-space:pre" text-rendering="geometricPrecision" fill="#1a1a1a" stroke="#1a1a1a" stroke-width="0.3" textLength="110.32" lengthAdjust="spacingAndGlyphs">Orogenic Diagenesis</text>
<text x="143.56" y="33.50" style="font-family:'Liberation Sans',sans-serif;font-size:12.5px;font-weight:normal;white-space:pre" text-rendering="geometricPrecision" fill="#1a1a1a" stroke="#1a1a1a" stroke-width="0.3" textLength="106.55" lengthAdjust="spacingAndGlyphs">and Metamorphism</text>
<text x="159.18" y="50.20" style="font-family:'Liberation Sans',sans-serif;font-size:10.3px;font-weight:normal;white-space:pre" text-rendering="geometricPrecision" fill="#1a1a1a" stroke="#1a1a1a" stroke-width="0.3" textLength="32.38" lengthAdjust="spacingAndGlyphs">HN(GS)</text>
<text x="159.14" y="68.20" style="font-family:'Liberation Sans',sans-serif;font-size:10.2px;font-weight:normal;white-space:pre" text-rendering="geometricPrecision" fill="#1a1a1a" stroke="#1a1a1a" stroke-width="0.3" textLength="33.36" lengthAdjust="spacingAndGlyphs">NCA(A)</text>
<text x="233.17" y="114.40" style="font-family:'Liberation Sans',sans-serif;font-size:10.2px;font-weight:normal;white-space:pre" text-rendering="geometricPrecision" fill="#1a1a1a" stroke="#1a1a1a" stroke-width="0.3" textLength="32.27" lengthAdjust="spacingAndGlyphs">NCA(R)</text>
<text x="307.74" y="194.30" style="font-family:'Liberation Sans',sans-serif;font-size:10.6px;font-weight:normal;white-space:pre" text-rendering="geometricPrecision" fill="#1a1a1a" stroke="#1a1a1a" stroke-width="0.3" textLength="26.42" lengthAdjust="spacingAndGlyphs">HN(K)</text>
<text x="320.73" y="311.90" style="font-family:'Liberation Sans',sans-serif;font-size:11.4px;font-weight:normal;white-space:pre" text-rendering="geometricPrecision" fill="#1a1a1a" stroke="#1a1a1a" stroke-width="0.3" textLength="13.81" lengthAdjust="spacingAndGlyphs">NC</text>
<text x="402.62" y="339.90" style="font-family:'Liberation Sans',sans-serif;font-size:10.3px;font-weight:normal;white-space:pre" text-rendering="geometricPrecision" fill="#1a1a1a" stroke="#1a1a1a" stroke-width="0.3" textLength="19.19" lengthAdjust="spacingAndGlyphs">LAA</text>
<text x="313.89" y="77.40" style="font-family:'Liberation Sans',sans-serif;font-size:13.0px;font-weight:normal;white-space:pre" text-rendering="geometricPrecision" fill="#1a1a1a" stroke="#1a1a1a" stroke-width="0.3" textLength="37.64" lengthAdjust="spacingAndGlyphs">Hyper-</text>
<text x="323.30" y="91.40" style="font-family:'Liberation Sans',sans-serif;font-size:13.0px;font-weight:normal;white-space:pre" text-rendering="geometricPrecision" fill="#1a1a1a" stroke="#1a1a1a" stroke-width="0.3" textLength="41.27" lengthAdjust="spacingAndGlyphs">thermal</text>
<text x="334.14" y="106.20" style="font-family:'Liberation Sans',sans-serif;font-size:13.0px;font-weight:normal;white-space:pre" text-rendering="geometricPrecision" fill="#1a1a1a" stroke="#1a1a1a" stroke-width="0.3" textLength="43.42" lengthAdjust="spacingAndGlyphs">gradient</text>
<text x="318.31" y="346.50" style="font-family:'Liberation Sans',sans-serif;font-size:12.3px;font-weight:normal;white-space:pre" text-rendering="geometricPrecision" fill="#1a1a1a" stroke="#1a1a1a" stroke-width="0.3" textLength="22.78" lengthAdjust="spacingAndGlyphs">Low</text>
<text x="332.15" y="361.90" style="font-family:'Liberation Sans',sans-serif;font-size:12.3px;font-weight:normal;white-space:pre" text-rendering="geometricPrecision" fill="#1a1a1a" stroke="#1a1a1a" stroke-width="0.3" textLength="62.95" lengthAdjust="spacingAndGlyphs">geothermal</text>
<text x="345.45" y="376.20" style="font-family:'Liberation Sans',sans-serif;font-size:12.3px;font-weight:normal;white-space:pre" text-rendering="geometricPrecision" fill="#1a1a1a" stroke="#1a1a1a" stroke-width="0.3" textLength="45.63" lengthAdjust="spacingAndGlyphs">gradient</text>
<text x="208.99" y="332.30" style="font-family:'Liberation Sans',sans-serif;font-size:12.2px;font-weight:normal;white-space:pre" text-rendering="geometricPrecision" fill="#f4f4f4" stroke="#f4f4f4" stroke-width="0.3" textLength="71.52" lengthAdjust="spacingAndGlyphs">Hypothermal</text>
<text x="214.91" y="347.20" style="font-family:'Liberation Sans',sans-serif;font-size:12.2px;font-weight:normal;white-space:pre" text-rendering="geometricPrecision" fill="#f4f4f4" stroke="#f4f4f4" stroke-width="0.3" textLength="45.42" lengthAdjust="spacingAndGlyphs">gradient</text>
<text x="502.97" y="339.40" style="font-family:'Liberation Sans',sans-serif;font-size:11.9px;font-weight:normal;white-space:pre" text-rendering="geometricPrecision" fill="#f4f4f4" stroke="#f4f4f4" stroke-width="0.3" textLength="26.18" lengthAdjust="spacingAndGlyphs">High</text>
<text x="514.12" y="354.40" style="font-family:'Liberation Sans',sans-serif;font-size:11.9px;font-weight:normal;white-space:pre" text-rendering="geometricPrecision" fill="#f4f4f4" stroke="#f4f4f4" stroke-width="0.3" textLength="62.44" lengthAdjust="spacingAndGlyphs">geothermal</text>
<text x="530.19" y="369.90" style="font-family:'Liberation Sans',sans-serif;font-size:11.9px;font-weight:normal;white-space:pre" text-rendering="geometricPrecision" fill="#f4f4f4" stroke="#f4f4f4" stroke-width="0.3" textLength="45.34" lengthAdjust="spacingAndGlyphs">gradient</text>
<text x="100.91" y="392.90" style="font-family:'Liberation Sans',sans-serif;font-size:10.5px;font-weight:normal;white-space:pre" text-rendering="geometricPrecision" fill="#f4f4f4" stroke="#f4f4f4" stroke-width="0.3" textLength="205.01" lengthAdjust="spacingAndGlyphs">Measurement limit of the XRD device control</text>
<text transform="translate(13.8,273) rotate(-90)" text-rendering="geometricPrecision" style="font-family:'Liberation Sans',sans-serif;font-size:18px;white-space:pre" fill="#1a1a1a" stroke="#1a1a1a" stroke-width="0.3"><tspan>Kübler-Index </tspan><tspan style="font-family:'Liberation Serif',serif;font-size:19px">Δ°2θ</tspan></text>
</svg>
</body></html>
